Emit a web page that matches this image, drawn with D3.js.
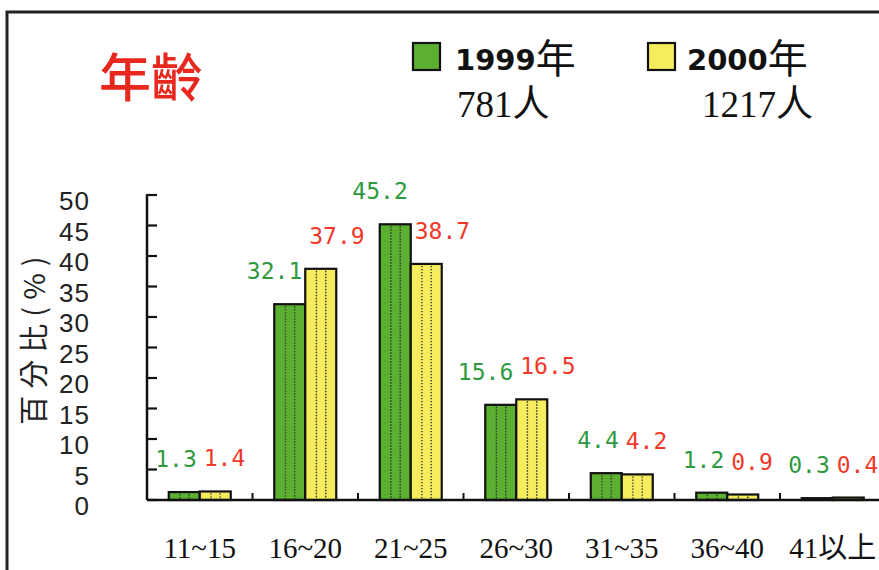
<!DOCTYPE html>
<html>
<head>
<meta charset="utf-8">
<script src="https://cdn.jsdelivr.net/npm/d3@7"></script>
<style>
  html, body { margin: 0; padding: 0; background: #fff; }
  svg { display: block; }
</style>
</head>
<body>
<svg id="chart" width="879" height="570"></svg>
<script>
// ---- data ----
const categories = ["11~15", "16~20", "21~25", "26~30", "31~35", "36~40", "41以上"];
const seriesNames = ["1999年", "2000年"];
const seriesYears = ["1999", "2000"];
const seriesCounts = ["781人", "1217人"];
const values1999 = [1.3, 32.1, 45.2, 15.6, 4.4, 1.2, 0.3];
const values2000 = [1.4, 37.9, 38.7, 16.5, 4.2, 0.9, 0.4];
const yTicks = [0, 5, 10, 15, 20, 25, 30, 35, 40, 45, 50];
const title = "年齡";
const yTitle = "百分比(%)";

// ---- styles ----
const barColors = ["#5cb031", "#f5ec5e"];
const labelColors = ["#2e9a3f", "#f0392a"];

const svg = d3.select("#chart");

// frame
svg.append("rect")
  .attr("x", 7).attr("y", 12)
  .attr("width", 1000).attr("height", 1000)
  .attr("fill", "none").attr("stroke", "#222").attr("stroke-width", 3);

// scales
const x0 = 147, bandW = 105.5;
const x = d3.scaleBand().domain(categories).range([x0, x0 + bandW * categories.length]).padding(0);
const barW = 31;
const xs = d3.scaleBand().domain(seriesNames)
  .range([x.bandwidth() / 2 - barW, x.bandwidth() / 2 + barW]).padding(0);
const y = d3.scaleLinear().domain([0, 50]).range([500, 195]);

const data = categories.map((c, i) => ({
  cat: c,
  vals: [values1999[i], values2000[i]].map((v, s) => ({ s, name: seriesNames[s], v }))
}));

// bars
const g = svg.append("g");
const groups = g.selectAll("g.grp").data(data).enter().append("g")
  .attr("transform", d => `translate(${x(d.cat)},0)`);

groups.selectAll("rect").data(d => d.vals).enter().append("rect")
  .attr("x", d => xs(d.name))
  .attr("y", d => y(d.v))
  .attr("width", xs.bandwidth())
  .attr("height", d => y(0) - y(d.v))
  .attr("fill", d => barColors[d.s])
  .attr("stroke", "#111")
  .attr("stroke-width", 2.2);

// dotted inner lines
[0.36, 0.66].forEach(f => {
  groups.selectAll(null).data(d => d.vals.filter(e => y(0) - y(e.v) > 4)).enter().append("line")
    .attr("x1", d => xs(d.name) + xs.bandwidth() * f)
    .attr("x2", d => xs(d.name) + xs.bandwidth() * f)
    .attr("y1", d => y(d.v) + 2)
    .attr("y2", y(0) - 1)
    .attr("stroke", "#333")
    .attr("stroke-width", 1.4)
    .attr("stroke-dasharray", "1.4,1.6");
});
// tiny bars: single center dot
groups.selectAll(null).data(d => d.vals.filter(e => y(0) - y(e.v) <= 4 && e.v >= 1)).enter().append("rect")
  .attr("x", d => xs(d.name) + xs.bandwidth() / 2 - 1)
  .attr("y", d => (y(d.v) + y(0)) / 2 - 1)
  .attr("width", 2).attr("height", 2)
  .attr("fill", "#333");

// value labels
groups.selectAll("text.val").data(d => d.vals).enter().append("text")
  .attr("x", d => d.s === 0 ? x.bandwidth() / 2 - 3 : x.bandwidth() / 2 + 4)
  .attr("y", d => y(d.v) - 25)
  .attr("text-anchor", d => d.s === 0 ? "end" : "start")
  .attr("fill", d => labelColors[d.s])
  .attr("font-family", "DejaVu Sans Mono, monospace")
  .attr("font-size", 23)
  .text(d => d.v.toFixed(1));

// x axis
const xAxisG = svg.append("g").attr("transform", `translate(0,${y(0)})`);
xAxisG.append("line")
  .attr("x1", x0).attr("x2", 900).attr("y1", 0).attr("y2", 0)
  .attr("stroke", "#111").attr("stroke-width", 2.5);
xAxisG.selectAll("line.xt").data(categories.slice(1)).enter().append("line")
  .attr("x1", d => x(d)).attr("x2", d => x(d))
  .attr("y1", 0).attr("y2", -7)
  .attr("stroke", "#111").attr("stroke-width", 2);
xAxisG.selectAll("text.xl").data(categories).enter().append("text")
  .attr("x", d => x(d) + x.bandwidth() / 2)
  .attr("y", 58)
  .attr("text-anchor", "middle")
  .attr("fill", "#111")
  .attr("font-family", "Liberation Serif, 'Noto Sans CJK TC', serif")
  .attr("font-size", 29)
  .text(d => d);

// y axis
const yAxisG = svg.append("g").attr("transform", `translate(${x0},0)`);
yAxisG.append("line")
  .attr("x1", 0).attr("x2", 0).attr("y1", y(50) - 1).attr("y2", y(0))
  .attr("stroke", "#111").attr("stroke-width", 2.5);
yAxisG.selectAll("line.yt").data(yTicks).enter().append("line")
  .attr("x1", 0).attr("x2", 10)
  .attr("y1", d => y(d)).attr("y2", d => y(d))
  .attr("stroke", "#111").attr("stroke-width", 2.2);
yAxisG.selectAll("text.yl").data(yTicks).enter().append("text")
  .attr("x", -57)
  .attr("y", d => y(d) + 15)
  .attr("text-anchor", "end")
  .attr("fill", "#222")
  .attr("font-family", "Liberation Sans, Arial, sans-serif")
  .attr("font-size", 26)
  .attr("letter-spacing", 1)
  .text(d => d);

// y title
svg.append("text")
  .attr("transform", "translate(45,337) rotate(-90)")
  .attr("text-anchor", "middle")
  .attr("fill", "#222")
  .attr("font-family", "'Noto Sans CJK TC', sans-serif")
  .attr("font-size", 29)
  .attr("letter-spacing", 7)
  .text(yTitle);

// title
svg.append("text")
  .attr("x", 99).attr("y", 97)
  .attr("fill", "#e8271f")
  .attr("font-family", "'Noto Sans CJK TC', sans-serif")
  .attr("font-size", 52)
  .attr("font-weight", 500)
  .text(title);

// legend
const legX = [413, 648];
const legG = svg.append("g");
const li = legG.selectAll("g").data(seriesNames).enter().append("g")
  .attr("transform", (d, i) => `translate(${legX[i]},0)`);
li.append("rect")
  .attr("x", 0).attr("y", 43).attr("width", 27).attr("height", 27)
  .attr("fill", (d, i) => barColors[i])
  .attr("stroke", "#111").attr("stroke-width", 2.2);
const lt = li.append("text")
  .attr("x", (d, i) => i === 0 ? 42 : 39).attr("y", 70)
  .attr("fill", "#111");
lt.append("tspan")
  .attr("font-family", "DejaVu Sans, sans-serif")
  .attr("font-weight", "bold")
  .attr("font-size", 29)
  .text((d, i) => seriesYears[i]);
lt.append("tspan")
  .attr("font-family", "'Noto Sans CJK TC', sans-serif")
  .attr("font-size", 40)
  .attr("dy", 3)
  .text("年");
li.append("text")
  .attr("x", (d, i) => i === 0 ? 44 : 54).attr("y", 117)
  .attr("fill", "#111")
  .attr("font-family", "Liberation Serif, 'Noto Sans CJK TC', serif")
  .attr("font-size", 37)
  .text((d, i) => seriesCounts[i]);
</script>
</body>
</html>
